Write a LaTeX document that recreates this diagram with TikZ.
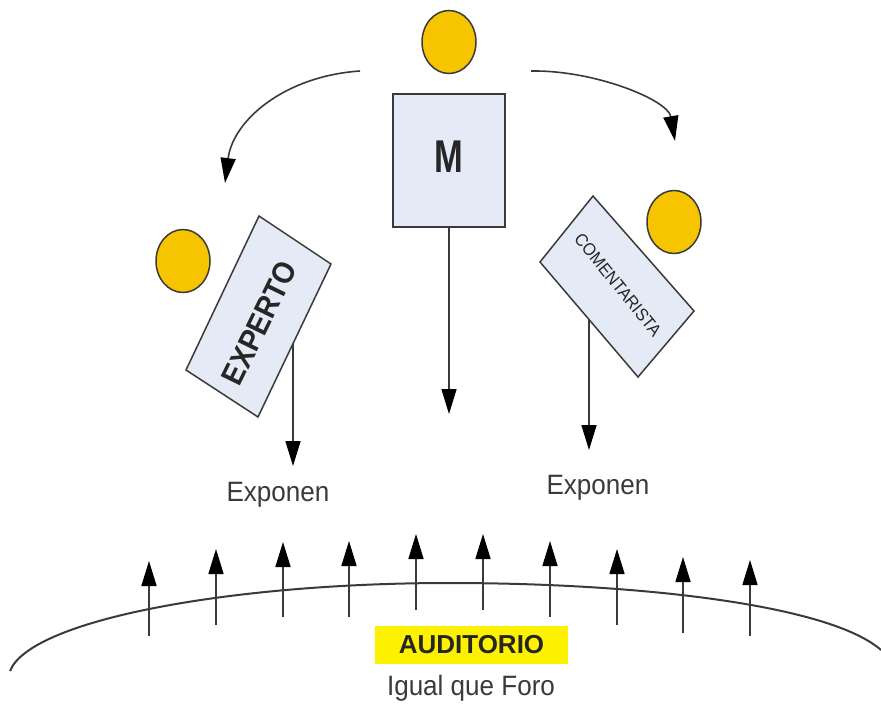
\documentclass[tikz,border=0pt]{standalone}
\usepackage{fontspec}
\setmainfont{Liberation Sans}
\usetikzlibrary{arrows.meta,shapes.geometric}

\definecolor{headfill}{HTML}{F6C500}
\definecolor{cardfill}{HTML}{E5EBF6}
\definecolor{inkgray}{HTML}{3A3A3A}

\newcommand{\narrowtext}[2]{\scalebox{#1}[1]{#2}}

\tikzset{
  head/.style={ellipse,draw=inkgray,line width=1.5pt,fill=headfill,minimum width=54pt,minimum height=63pt,inner sep=0pt},
  card/.style={draw=inkgray,line width=1.5pt,fill=cardfill,inner sep=0pt},
  arrowline/.style={draw=inkgray,line width=1.6pt,-{Triangle[length=25pt,width=15pt,color=black]}},
  label/.style={text=inkgray,font=\fontsize{28}{30}\selectfont,inner sep=0pt}
}

\begin{document}
\begin{tikzpicture}[x=1pt,y=-1pt]
      \useasboundingbox (0,0) rectangle (881,705);

      \node[head] (H1) at (449,42) {};
      \node[head] (H2) at (183,261) {};
      \node[head] (H3) at (674,222) {};

      \node[card,minimum width=112pt,minimum height=133pt] (M) at (449,160.5) {};
      \node[font=\bfseries\fontsize{46}{48}\selectfont,text=black!85,inner sep=0pt] (Mtext) at (449,157) {\narrowtext{0.75}{M}};

      \coordinate (EX1) at (259,216);
      \coordinate (EX2) at (331,264);
      \coordinate (EX3) at (258,417);
      \coordinate (EX4) at (186,370);
      \draw[card] (EX1) -- (EX2) -- (EX3) -- (EX4) -- cycle;
      \node[rotate=64,font=\bfseries\fontsize{31}{34}\selectfont,text=black!85,inner sep=0pt] (EXP) at (259.5,323) {\narrowtext{0.9}{EXPERTO}};

      \coordinate (CO1) at (593,196);
      \coordinate (CO2) at (694,311);
      \coordinate (CO3) at (638,377);
      \coordinate (CO4) at (540,262);
      \draw[card] (CO1) -- (CO2) -- (CO3) -- (CO4) -- cycle;
      \node[rotate=-51,font=\fontsize{17.5}{20}\selectfont,text=black!85,inner sep=0pt] (COM) at (618,285) {\narrowtext{0.93}{COMENTARISTA}};

      \node[label] (X1) at (278,495) {\narrowtext{0.93}{Exponen}};
      \node[label] (X2) at (598,488) {\narrowtext{0.93}{Exponen}};
      \node[fill=yellow,minimum width=193pt,minimum height=38pt,inner sep=0pt,text=black!85,font=\bfseries\fontsize{26}{30}\selectfont] (AUD) at (471.5,645) {AUDITORIO};
      \node[label] (IGU) at (471,688) {\narrowtext{0.93}{Igual que Foro}};

      \coordinate (L1) at (360,71);
      \coordinate (L2) at (225,183);
      \coordinate (R1) at (531,71);
      \coordinate (R2) at (675,141);
      \coordinate (M2) at (449,414);
      \coordinate (E1) at (293,344);
      \coordinate (E2) at (293,466);
      \coordinate (C1) at (589,320);
      \coordinate (C2) at (589,450);

      \draw[arrowline] (L1) .. controls (285,76) and (233,120) .. (L2);
      \draw[arrowline] (R1) .. controls (595,70) and (668,100) .. (R2);
      \draw[arrowline] (M.south) -- (M2);
      \draw[arrowline] (E1) -- (E2);
      \draw[arrowline] (C1) -- (C2);

      % dome
      \coordinate (D1) at (10,671);
      \coordinate (D2) at (449,583);
      \coordinate (D3) at (881,650);
      \draw[draw=inkgray,line width=2pt] (D1) .. controls (30,620) and (230,583) .. (D2)
                                              .. controls (640,583) and (830,605) .. (D3);

      \coordinate (A1) at (149,636);  \coordinate (B1) at (149,561);
      \coordinate (A2) at (216,625);  \coordinate (B2) at (216,549);
      \coordinate (A3) at (283,617);  \coordinate (B3) at (283,542);
      \coordinate (A4) at (349,617);  \coordinate (B4) at (349,541);
      \coordinate (A5) at (416,610);  \coordinate (B5) at (416,534);
      \coordinate (A6) at (483,610);  \coordinate (B6) at (483,534);
      \coordinate (A7) at (550,617);  \coordinate (B7) at (550,541);
      \coordinate (A8) at (617,625);  \coordinate (B8) at (617,549);
      \coordinate (A9) at (683,633);  \coordinate (B9) at (683,557);
      \coordinate (A10) at (750,636); \coordinate (B10) at (750,560);

      \draw[arrowline] (A1) -- (B1);
      \draw[arrowline] (A2) -- (B2);
      \draw[arrowline] (A3) -- (B3);
      \draw[arrowline] (A4) -- (B4);
      \draw[arrowline] (A5) -- (B5);
      \draw[arrowline] (A6) -- (B6);
      \draw[arrowline] (A7) -- (B7);
      \draw[arrowline] (A8) -- (B8);
      \draw[arrowline] (A9) -- (B9);
      \draw[arrowline] (A10) -- (B10);
    \end{tikzpicture}
\end{document}
